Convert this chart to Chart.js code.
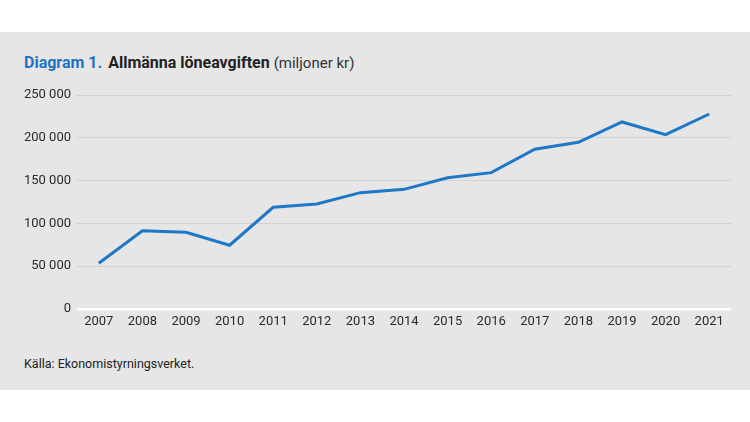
<!DOCTYPE html>
<html>
<head>
<meta charset="utf-8">
<script src="https://cdn.jsdelivr.net/npm/chart.js@4"></script>
<style>
  body { margin: 0; background: #fff; width: 750px; height: 422px; position: relative; overflow: hidden; font-family: Roboto, sans-serif; }
  #panel { position: absolute; left: 0; top: 32px; width: 750px; height: 358px; background: #e6e6e6; }
  #title { position: absolute; left: 24px; top: 53px; font-size: 16px; color: #222; white-space: nowrap; }
  #title .num { color: #1f74c1; font-weight: 700; margin-right: 6px; }
  #title b { font-weight: 700; }
  #title .unit { color: #333; font-size: 15px; }
  #source { position: absolute; left: 24px; top: 356px; font-size: 12.5px; color: #222; }
  #wrap { position: absolute; left: 0; top: 80px; width: 750px; height: 260px; }
</style>
</head>
<body>
<div id="panel"></div>
<div id="title"><span class="num">Diagram 1.</span><b>Allmänna löneavgiften</b> <span class="unit">(miljoner kr)</span></div>
<div id="wrap"><canvas id="chart"></canvas></div>
<div id="source">Källa: Ekonomistyrningsverket.</div>
<script>
// years and values (miljoner kr)
var years = ['2007', '2008', '2009', '2010', '2011', '2012', '2013', '2014', '2015', '2016', '2017', '2018', '2019', '2020', '2021']
var loneavgift = [53400, 91500, 89600, 74500, 118800, 122700, 135900, 139800, 153400, 159300, 186600, 194700, 218500, 203700, 227800]
var yTicks = [0, 50000, 100000, 150000, 200000, 250000]

function fmt(v) {
  return String(v).replace(/\B(?=(\d{3})+(?!\d))/g, ' ')
}

var ctx = document.getElementById('chart').getContext('2d')
var chart = new Chart(ctx, {
  type: 'line',
  data: {
    labels: years,
    datasets: [{
      data: loneavgift,
      borderColor: '#1f78c6',
      borderWidth: 3,
      pointRadius: 0,
      tension: 0,
      fill: false
    }]
  },
  options: {
    responsive: true,
    maintainAspectRatio: false,
    animation: false,
    layout: { padding: { top: 15, right: 19, left: 0, bottom: 0 } },
    plugins: { legend: { display: false }, tooltip: { enabled: false } },
    scales: {
      x: {
        offset: true,
        grid: { display: false, drawTicks: false },
        border: { display: false },
        ticks: { color: '#2a2a2a', font: { family: 'Roboto', size: 13 }, padding: 5, maxRotation: 0, autoSkip: false },
        afterFit: function (s) { s.height = 31 }
      },
      y: {
        min: 0,
        max: 250000,
        afterBuildTicks: function (s) { s.ticks = yTicks.map(function (v) { return { value: v } }) },
        grid: {
          drawTicks: false,
          color: function (c) { return c.tick && c.tick.value === 0 ? '#ffffff' : '#d2d2d2' },
          lineWidth: function (c) { return c.tick && c.tick.value === 0 ? 2.5 : 1 }
        },
        border: { display: false },
        ticks: { color: '#2a2a2a', font: { family: 'Roboto', size: 13 }, padding: 6, callback: function (v) { return fmt(v) } },
        afterFit: function (s) { s.width = 77 }
      }
    }
  }
})
</script>
</body>
</html>
